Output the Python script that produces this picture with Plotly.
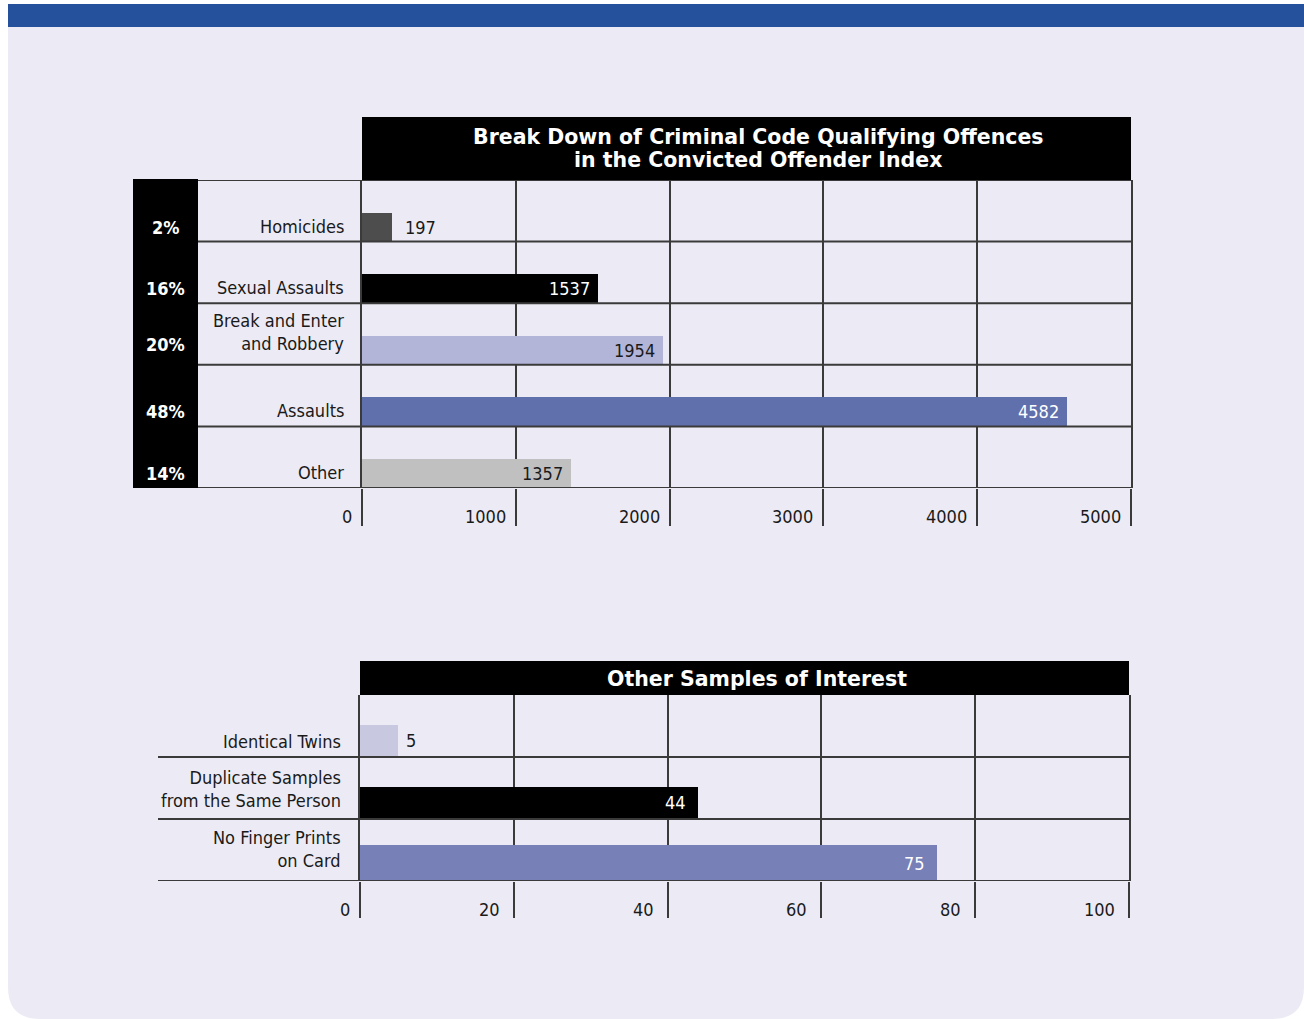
import plotly.graph_objects as go

# ---------------- data ----------------
offence_categories = ["Homicides", "Sexual Assaults", "Break and Enter\nand Robbery", "Assaults", "Other"]
offence_counts = [197, 1537, 1954, 4582, 1357]
offence_percents = ["2%", "16%", "20%", "48%", "14%"]
offence_ticks = [0, 1000, 2000, 3000, 4000, 5000]

sample_categories = ["Identical Twins", "Duplicate Samples\nfrom the Same Person", "No Finger Prints\non Card"]
sample_counts = [5, 44, 75]
sample_ticks = [0, 20, 40, 60, 80, 100]

title1_lines = ["Break Down of Criminal Code Qualifying Offences", "in the Convicted Offender Index"]
title2 = "Other Samples of Interest"

# ---------------- style ----------------
W, H = 1304, 1019
PANEL = "#ECEBF5"
BLUE = "#25519C"
LINE = "#3a3a3a"
TXT = "#1a1a1a"
FONT = "DejaVu Sans Condensed, Liberation Sans Narrow, Arial Narrow, sans-serif"
TFONT = "DejaVu Sans, Verdana, sans-serif"
colors1 = ["#4d4d4d", "#000000", "#b3b5d8", "#6070ad", "#c0c0c0"]
label_colors1 = [TXT, "white", TXT, "white", TXT]
inside1 = [False, True, True, True, True]
colors2 = ["#c8c8e0", "#000000", "#7880b8"]
label_colors2 = [TXT, "white", "white"]
inside2 = [False, True, True]
widths2 = [0.52, 0.52, 0.58]


def X(px):
    return px / W


def Y(py):
    return 1 - py / H


fig = go.Figure()

n1 = len(offence_categories)
ys1 = list(range(n1 - 1, -1, -1))
n2 = len(sample_categories)
ys2 = list(range(n2 - 1, -1, -1))

fig.add_trace(go.Bar(orientation="h", x=offence_counts, y=ys1, width=0.47, offset=-0.5,
                     marker=dict(color=colors1, line=dict(width=0)),
                     xaxis="x", yaxis="y", hoverinfo="skip", showlegend=False))
fig.add_trace(go.Bar(orientation="h", x=sample_counts, y=ys2, width=widths2, offset=-0.5,
                     marker=dict(color=colors2, line=dict(width=0)),
                     xaxis="x2", yaxis="y2", hoverinfo="skip", showlegend=False))

shapes = []
# panel background with rounded bottom corners
r = 32
path = (f"M {X(8)},{Y(4)} L {X(1304)},{Y(4)} L {X(1304)},{Y(1019 - r)} "
        f"Q {X(1304)},{Y(1019)} {X(1304 - r)},{Y(1019)} L {X(8 + r)},{Y(1019)} "
        f"Q {X(8)},{Y(1019)} {X(8)},{Y(1019 - r)} Z")
shapes.append(dict(type="path", path=path, xref="paper", yref="paper",
                   fillcolor=PANEL, line=dict(width=0), layer="below"))
shapes.append(dict(type="rect", xref="paper", yref="paper", x0=X(8), x1=X(1304), y0=Y(27), y1=Y(4),
                   fillcolor=BLUE, line=dict(width=0), layer="below"))

# chart 1 structure
shapes.append(dict(type="rect", xref="paper", yref="paper", x0=X(362), x1=X(1131), y0=Y(180), y1=Y(117),
                   fillcolor="black", line=dict(width=0)))
shapes.append(dict(type="rect", xref="paper", yref="paper", x0=X(133), x1=X(198), y0=Y(488), y1=Y(179),
                   fillcolor="black", line=dict(width=0)))
for b in [v - 0.5 for v in range(n1 + 1)]:
    shapes.append(dict(type="line", xref="paper", yref="y", x0=X(198), x1=X(1131), y0=b, y1=b,
                       line=dict(color=LINE, width=2)))

# chart 2 structure
shapes.append(dict(type="rect", xref="paper", yref="paper", x0=X(360), x1=X(1129), y0=Y(695), y1=Y(661),
                   fillcolor="black", line=dict(width=0)))
for b in [v - 0.5 for v in range(n2)]:
    shapes.append(dict(type="line", xref="paper", yref="y2", x0=X(158), x1=X(1129), y0=b, y1=b,
                       line=dict(color=LINE, width=2)))

ann = []
# titles
for line_text, py in zip(title1_lines, [137, 160]):
    ann.append(dict(text=line_text, xref="paper", yref="paper", x=X(758), y=Y(py),
                    xanchor="center", yanchor="middle", showarrow=False,
                    font=dict(family=TFONT, size=20.5, color="white", weight="bold")))
ann.append(dict(text=title2, xref="paper", yref="paper", x=X(757), y=Y(679),
                xanchor="center", yanchor="middle", showarrow=False,
                font=dict(family=TFONT, size=20.5, color="white", weight="bold")))

# chart 1 labels
for i, (cat, val, pct) in enumerate(zip(offence_categories, offence_counts, offence_percents)):
    yc = ys1[i] - 0.265
    two = "\n" in cat
    ann.append(dict(text=cat.replace("\n", "<br>"), xref="paper", yref="y", x=X(346), y=yc,
                    xanchor="right", yanchor="middle", align="right", showarrow=False,
                    yshift=(18 if two else 1), font=dict(family=FONT, size=18, color=TXT)))
    ann.append(dict(text=pct, xref="paper", yref="y", x=X(166), y=yc, xanchor="center", yanchor="middle",
                    showarrow=False, yshift=(6 if two else 0),
                    font=dict(family=FONT, size=18, color="white", weight="bold")))
    if inside1[i]:
        ann.append(dict(text=str(val), xref="x", yref="y", x=val, y=yc, xanchor="right", yanchor="middle",
                        xshift=-6, showarrow=False, font=dict(family=FONT, size=18, color=label_colors1[i])))
    else:
        ann.append(dict(text=str(val), xref="x", yref="y", x=val, y=yc, xanchor="left", yanchor="middle",
                        xshift=11, showarrow=False, font=dict(family=FONT, size=18, color=label_colors1[i])))
for t in offence_ticks:
    ann.append(dict(text=str(t), xref="x", yref="paper", x=t, y=Y(516), xanchor="right", yanchor="middle",
                    xshift=-8, showarrow=False, font=dict(family=FONT, size=18, color=TXT)))

# chart 2 labels
for i, (cat, val) in enumerate(zip(sample_categories, sample_counts)):
    yc = ys2[i] - 0.5 + widths2[i] / 2
    two = "\n" in cat
    ann.append(dict(text=cat.replace("\n", "<br>"), xref="paper", yref="y2", x=X(343), y=yc,
                    xanchor="right", yanchor="middle", align="right", showarrow=False,
                    yshift=(14 if two else -1), font=dict(family=FONT, size=18, color=TXT)))
    if inside2[i]:
        ann.append(dict(text=str(val), xref="x2", yref="y2", x=val, y=yc, xanchor="right", yanchor="middle",
                        xshift=-10, showarrow=False, font=dict(family=FONT, size=18, color=label_colors2[i])))
    else:
        ann.append(dict(text=str(val), xref="x2", yref="y2", x=val, y=yc, xanchor="left", yanchor="middle",
                        xshift=6, showarrow=False, font=dict(family=FONT, size=18, color=label_colors2[i])))
for t in sample_ticks:
    ann.append(dict(text=str(t), xref="x2", yref="paper", x=t, y=Y(909), xanchor="right", yanchor="middle",
                    xshift=(-8 if t == 0 else -12), showarrow=False, font=dict(family=FONT, size=18, color=TXT)))

axis_x = dict(showgrid=True, gridcolor=LINE, gridwidth=2, ticks="outside", tickwidth=2, tickcolor=LINE,
              showticklabels=False, zeroline=False, showline=False, fixedrange=True)
axis_y = dict(showgrid=False, showticklabels=False, zeroline=False, showline=True, linecolor=LINE,
              linewidth=2, mirror=True, ticks="", fixedrange=True)

fig.update_layout(
    width=W, height=H, autosize=False,
    margin=dict(l=0, r=0, t=0, b=0, pad=0),
    paper_bgcolor="white", plot_bgcolor="rgba(0,0,0,0)",
    bargap=0,
    xaxis=dict(axis_x, domain=[X(362), X(1131)], range=[0, 5000], tickvals=offence_ticks, ticklen=37, anchor="y"),
    yaxis=dict(axis_y, domain=[Y(488), Y(180)], range=[-0.5, n1 - 0.5], anchor="x"),
    xaxis2=dict(axis_x, domain=[X(360), X(1129)], range=[0, 100], tickvals=sample_ticks, ticklen=36, anchor="y2"),
    yaxis2=dict(axis_y, domain=[Y(881), Y(695)], range=[-0.5, n2 - 0.5], anchor="x2"),
    shapes=shapes,
    annotations=ann,
)

fig.write_html("out.html")
